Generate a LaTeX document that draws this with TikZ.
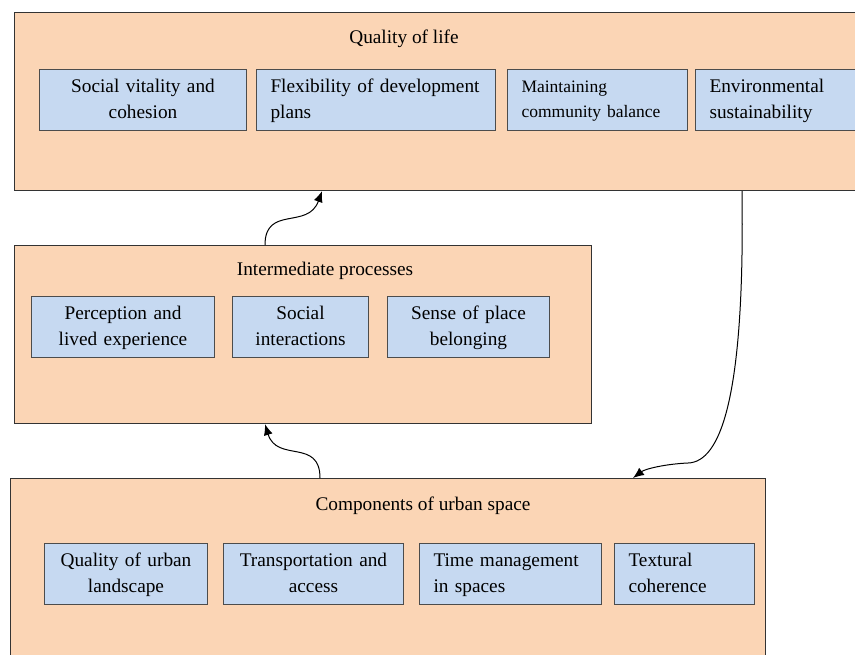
\documentclass[tikz,border=0pt]{standalone}
\usepackage{fontspec}
\setmainfont{Liberation Serif}
\usetikzlibrary{arrows.meta,calc}
\definecolor{peach}{RGB}{251,213,181}
\definecolor{paleblue}{RGB}{198,217,241}
\begin{document}
\begin{tikzpicture}[x=1pt,y=-1pt,
    outerbox/.style={draw=black!80,line width=1.1pt,fill=peach,anchor=north west,inner sep=0pt},
    innerbox/.style={draw=black!70,line width=1pt,fill=paleblue,anchor=north west,inner xsep=14pt,inner ysep=0pt,minimum height=61pt,
        execute at begin node=\strut,execute at end node=\strut},
    boxtitle/.style={inner sep=0pt},
    link/.style={line width=1pt,-{Latex[length=11pt,width=9pt]}},
    font=\fontsize{19.3}{26}\selectfont]
                    \useasboundingbox (0,0) rectangle (855,654);
                    
                    % quality of life
                    \node[outerbox,minimum width=860pt,minimum height=178pt] (qol) at (14,12) {};
                    \node[boxtitle] (qoltitle) at (404,39) {Quality of life};
                    \node[innerbox,minimum width=207pt,text width=179pt,align=center] (social) at (39,69) {Social vitality and\\cohesion};
                    \node[innerbox,minimum width=239pt,text width=211pt,align=left] (flex) at (256,69) {Flexibility of development\\plans};
                    \node[innerbox,minimum width=180pt,text width=152pt,align=left,font=\fontsize{17.5}{25}\selectfont] (balance) at (507,69) {Maintaining\\community balance};
                    \node[innerbox,minimum width=175pt,text width=147pt,align=left] (env) at (695,69) {Environmental\\sustainability};
                    
                    % intermediate processes
                    \node[outerbox,minimum width=577pt,minimum height=178pt] (mid) at (14,245) {};
                    \node[boxtitle] (midtitle) at (325,271) {Intermediate processes};
                    \node[innerbox,minimum width=183pt,text width=155pt,align=center] (percep) at (31,296) {Perception and\\lived experience};
                    \node[innerbox,minimum width=136pt,text width=108pt,align=center] (inter) at (232,296) {Social\\interactions};
                    \node[innerbox,minimum width=162pt,text width=134pt,align=center] (sense) at (387,296) {Sense of place\\belonging};
                    
                    % components of urban space
                    \node[outerbox,minimum width=755pt,minimum height=200pt] (urban) at (10,478) {};
                    \node[boxtitle] (urbantitle) at (423,506) {Components of urban space};
                    \node[innerbox,minimum width=163pt,text width=135pt,align=center] (landsc) at (44,543) {Quality of urban\\landscape};
                    \node[innerbox,minimum width=180pt,text width=152pt,align=center] (transp) at (223,543) {Transportation and\\access};
                    \node[innerbox,minimum width=182pt,text width=154pt,align=left] (time) at (419,543) {Time management\\in spaces};
                    \node[innerbox,minimum width=140pt,text width=112pt,align=left] (texture) at (614,543) {Textural\\coherence};
                    
                    % links
                    \coordinate (midtop) at ($(mid.north west)+(251,0)$);
                    \coordinate (qolbot) at ($(qol.south west)+(308,0)$);
                    \coordinate (urbtop) at ($(urban.north west)+(310,0)$);
                    \coordinate (midbot) at ($(mid.south west)+(251,0)$);
                    \coordinate (qolout) at ($(qol.south west)+(728,0)$);
                    \coordinate (urbin) at ($(urban.north west)+(623,0)$);
                    \draw[link] (midtop) .. controls (265,205) and (308,230) .. (qolbot);
                    \draw[link] (urbtop) .. controls (320,438) and (277,463) .. (midbot);
                    \draw[link] (qolout) .. controls (745,400) and (720,462) .. (688,463) .. controls (665,464) and (645,469) .. (urbin);
                    \end{tikzpicture}
\end{document}
